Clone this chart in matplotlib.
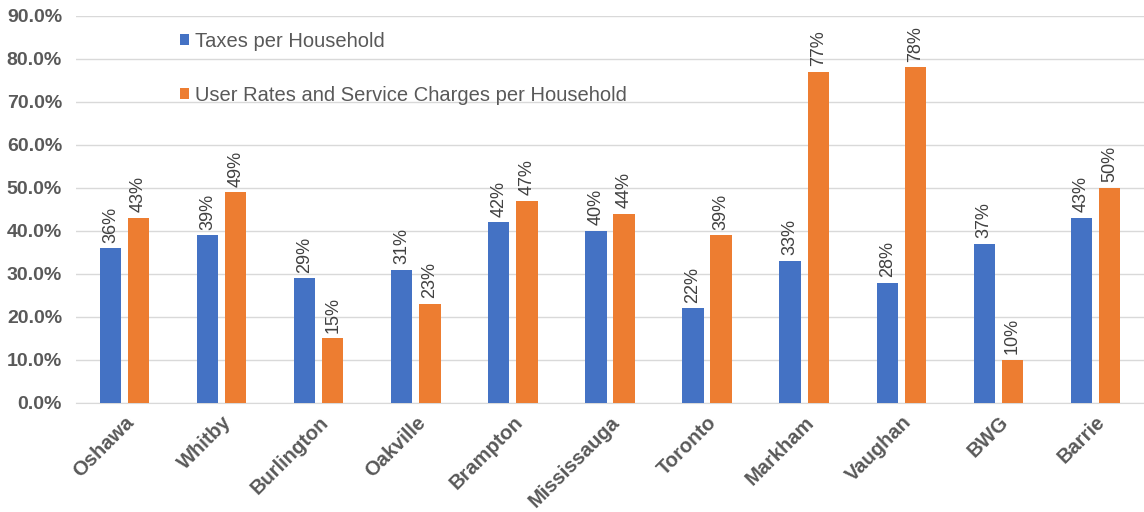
import numpy as np
import matplotlib.pyplot as plt
from matplotlib.ticker import PercentFormatter

# Dados do gráfico
cidades = ["Oshawa", "Whitby", "Burlington", "Oakville", "Brampton", "Mississauga",
           "Toronto", "Markham", "Vaughan", "BWG", "Barrie"]
impostos = [36, 39, 29, 31, 42, 40, 22, 33, 28, 37, 43]
tarifas = [43, 49, 15, 23, 47, 44, 39, 77, 78, 10, 50]
serie_nomes = ["Taxes per Household", "User Rates and Service Charges per Household"]

AZUL = "#4472C4"
LARANJA = "#ED7D31"
CINZA = "#595959"

plt.rcParams['font.family'] = ['Liberation Sans', 'DejaVu Sans']

fig = plt.figure(figsize=(11.44, 5.12), dpi=100)
ax = fig.add_axes([0.0664, 0.213, 0.9336, 0.756])

x = np.arange(len(cidades))
larg = 0.22
desloc = 0.145
b1 = ax.bar(x - desloc, np.array(impostos) / 100, larg, color=AZUL, label=serie_nomes[0], zorder=3)
b2 = ax.bar(x + desloc, np.array(tarifas) / 100, larg, color=LARANJA, label=serie_nomes[1], zorder=3)

# Rótulos verticais acima das barras
for barras, vals in ((b1, impostos), (b2, tarifas)):
    for r, v in zip(barras, vals):
        ax.annotate(f"{v}%", (r.get_x() + r.get_width() / 2, r.get_height()),
                    xytext=(0, 4), textcoords="offset points", rotation=90,
                    ha="center", va="bottom", fontsize=13, color="#404040")

ax.set_xlim(-0.5, len(cidades) - 0.5)
ax.set_ylim(0, 0.9)
ax.set_yticks(np.arange(0, 0.91, 0.1))
ax.yaxis.set_major_formatter(PercentFormatter(1.0, decimals=1))
ax.set_xticks(x)
ax.set_xticklabels(cidades, rotation=45, ha="right", rotation_mode="anchor",
                   fontsize=14.5, fontweight="bold", color=CINZA)
for t in ax.get_yticklabels():
    t.set_fontsize(14)
    t.set_fontweight("bold")
    t.set_color(CINZA)

ax.tick_params(length=0, pad=7)
ax.tick_params(axis="y", pad=10)
ax.grid(axis="y", color="#D9D9D9", linewidth=1, zorder=0)
for lado in ("top", "right", "left"):
    ax.spines[lado].set_visible(False)
ax.spines["bottom"].set_color("#D9D9D9")

leg = ax.legend(loc="upper left", bbox_to_anchor=(0.088, 0.985), frameon=False,
                fontsize=14.5, handlelength=0.45, handleheight=0.45, handletextpad=0.3,
                labelspacing=1.75, borderpad=0)
for t in leg.get_texts():
    t.set_color(CINZA)

fig.savefig("out.png", dpi=100)
